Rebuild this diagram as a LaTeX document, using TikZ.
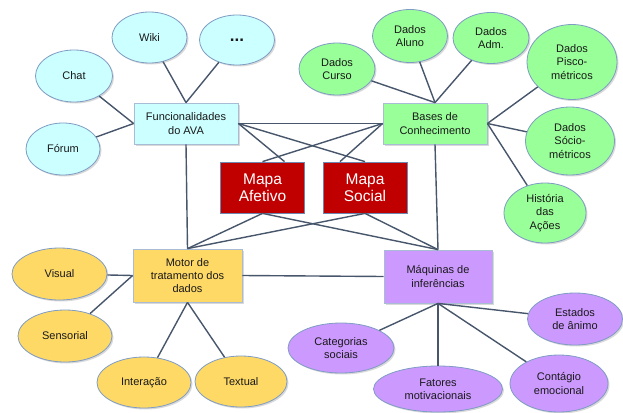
\documentclass[tikz,border=0pt]{standalone}
\usepackage{fontspec}
\setmainfont{Liberation Sans}
\usetikzlibrary{shapes.geometric,shadows}
\definecolor{ciano}{HTML}{CCFFFF}
\definecolor{verde}{HTML}{99FF99}
\definecolor{amarelo}{HTML}{FFD966}
\definecolor{lilas}{HTML}{CC99FF}
\definecolor{vermelho}{HTML}{C00000}
\definecolor{bordacaixa}{HTML}{A9BCD6}
\definecolor{bordabalao}{HTML}{7E9CC4}
\definecolor{bordamapa}{HTML}{6D87B0}
\definecolor{linha}{HTML}{47566B}
\tikzset{
  txt/.style={font=\fontsize{11}{13.3}\selectfont, align=center, text=black!90},
  sombra/.style={drop shadow={shadow xshift=1.5pt, shadow yshift=-1.5pt, opacity=0.3}},
  caixa/.style={txt, draw=bordacaixa, line width=0.8pt, inner sep=0pt, sombra},
  balao/.style={txt, ellipse, draw=bordabalao, line width=0.8pt, inner sep=0pt, sombra},
  mapa/.style={draw=bordamapa, line width=0.8pt, fill=vermelho, text=white,
    font=\fontsize{15.5}{17.3}\selectfont, align=center,
    minimum width=84pt, minimum height=51pt, inner sep=0pt},
  liga/.style={draw=linha, line width=1.4pt}
}
\begin{document}
\begin{tikzpicture}[x=1pt,y=-1pt]
\useasboundingbox (0,0) rectangle (623,412);
% caixas centrais
\node[caixa,fill=ciano,minimum width=104pt,minimum height=41pt] (func) at (186,123.5) {Funcionalidades\\do AVA};
\node[caixa,fill=verde,minimum width=104pt,minimum height=41pt] (bases) at (435,123.5) {Bases de\\Conhecimento};
\node[caixa,fill=amarelo,minimum width=109pt,minimum height=53pt] (motor) at (187.5,275.5) {Motor de\\tratamento dos\\dados};
\node[caixa,fill=lilas,minimum width=108pt,minimum height=53pt] (maquinas) at (438,276.5) {Máquinas de\\inferências};
\node[mapa] (afetivo) at (262.5,187.5) {Mapa\\Afetivo};
\node[mapa] (social) at (365,187.5) {Mapa\\Social};
% funcionalidades
\node[balao,fill=ciano,minimum width=75pt,minimum height=51pt] (wiki) at (149.5,37.5) {Wiki};
\node[balao,fill=ciano,minimum width=75pt,minimum height=50pt] (outros) at (237,40) {\fontsize{17}{17}\selectfont\textbf{...}};
\node[balao,fill=ciano,minimum width=77pt,minimum height=52pt] (chat) at (74,76) {Chat};
\node[balao,fill=ciano,minimum width=74pt,minimum height=52pt] (forum) at (63,149) {Fórum};
% bases
\node[balao,fill=verde,minimum width=76pt,minimum height=52pt] (curso) at (337,69) {Dados\\Curso};
\node[balao,fill=verde,minimum width=75pt,minimum height=53pt] (aluno) at (410,36) {Dados\\Aluno};
\node[balao,fill=verde,minimum width=76pt,minimum height=51pt] (adm) at (491,38) {Dados\\Adm.};
\node[balao,fill=verde,minimum width=90pt,minimum height=75pt] (psico) at (572,62) {Dados\\Pisco-\\métricos};
\node[balao,fill=verde,minimum width=89pt,minimum height=68pt] (socio) at (570,141) {Dados\\Sócio-\\métricos};
\node[balao,fill=verde,minimum width=82pt,minimum height=60pt] (historia) at (545,213) {História\\das\\Ações};
% motor
\node[balao,fill=amarelo,minimum width=95pt,minimum height=52pt] (visual) at (59.5,274) {Visual};
\node[balao,fill=amarelo,minimum width=94pt,minimum height=52pt] (sensorial) at (65,336) {Sensorial};
\node[balao,fill=amarelo,minimum width=94pt,minimum height=51pt] (interacao) at (144,382.5) {Interação};
\node[balao,fill=amarelo,minimum width=92pt,minimum height=51pt] (textual) at (241,381.5) {Textual};
% maquinas
\node[balao,fill=lilas,minimum width=106pt,minimum height=50pt] (categorias) at (341,348) {Categorias\\sociais};
\node[balao,fill=lilas,minimum width=129pt,minimum height=46pt] (fatores) at (438,389) {Fatores\\motivacionais};
\node[balao,fill=lilas,minimum width=98pt,minimum height=57pt] (contagio) at (559,383.5) {Contágio\\emocional};
\node[balao,fill=lilas,minimum width=95pt,minimum height=52pt] (estados) at (575,319) {Estados\\de ânimo};
% ligacoes
\draw[liga] (func.north) -- (wiki);
\draw[liga] (func.north) -- (outros);
\draw[liga] (func.west) -- (chat);
\draw[liga] (func.west) -- (forum);
\draw[liga] (bases.north) -- (curso);
\draw[liga] (bases.north) -- (aluno);
\draw[liga] (bases.north) -- (adm);
\draw[liga] (bases.east) -- (psico);
\draw[liga] (bases.east) -- (socio);
\draw[liga] (bases.east) -- (historia);
\draw[liga] (motor.west) -- (visual);
\draw[liga] (motor.west) -- (sensorial);
\draw[liga] (motor.south) -- (interacao);
\draw[liga] (motor.south) -- (textual);
\draw[liga] (maquinas.south) -- (categorias);
\draw[liga] (maquinas.south) -- (fatores);
\draw[liga] (maquinas.south) -- (contagio);
\draw[liga] (maquinas.south) -- (estados);
\draw[liga] (func.east) -- (bases.west);
\draw[liga] (motor.east) -- (maquinas.west);
\draw[liga] (func.south) -- (motor.north);
\draw[liga] (bases.south) -- (maquinas.north);
\draw[liga] (func.east) -- ([xshift=22pt]afetivo.north);
\draw[liga] (func.east) -- (social.north);
\draw[liga] (bases.west) -- (afetivo.north);
\draw[liga] (bases.west) -- ([xshift=-25pt]social.north);
\draw[liga] (motor.north) -- (afetivo.south);
\draw[liga] (motor.north) -- (social.south);
\draw[liga] (maquinas.north) -- (afetivo.south);
\draw[liga] (maquinas.north) -- (social.south);
\end{tikzpicture}
\end{document}
